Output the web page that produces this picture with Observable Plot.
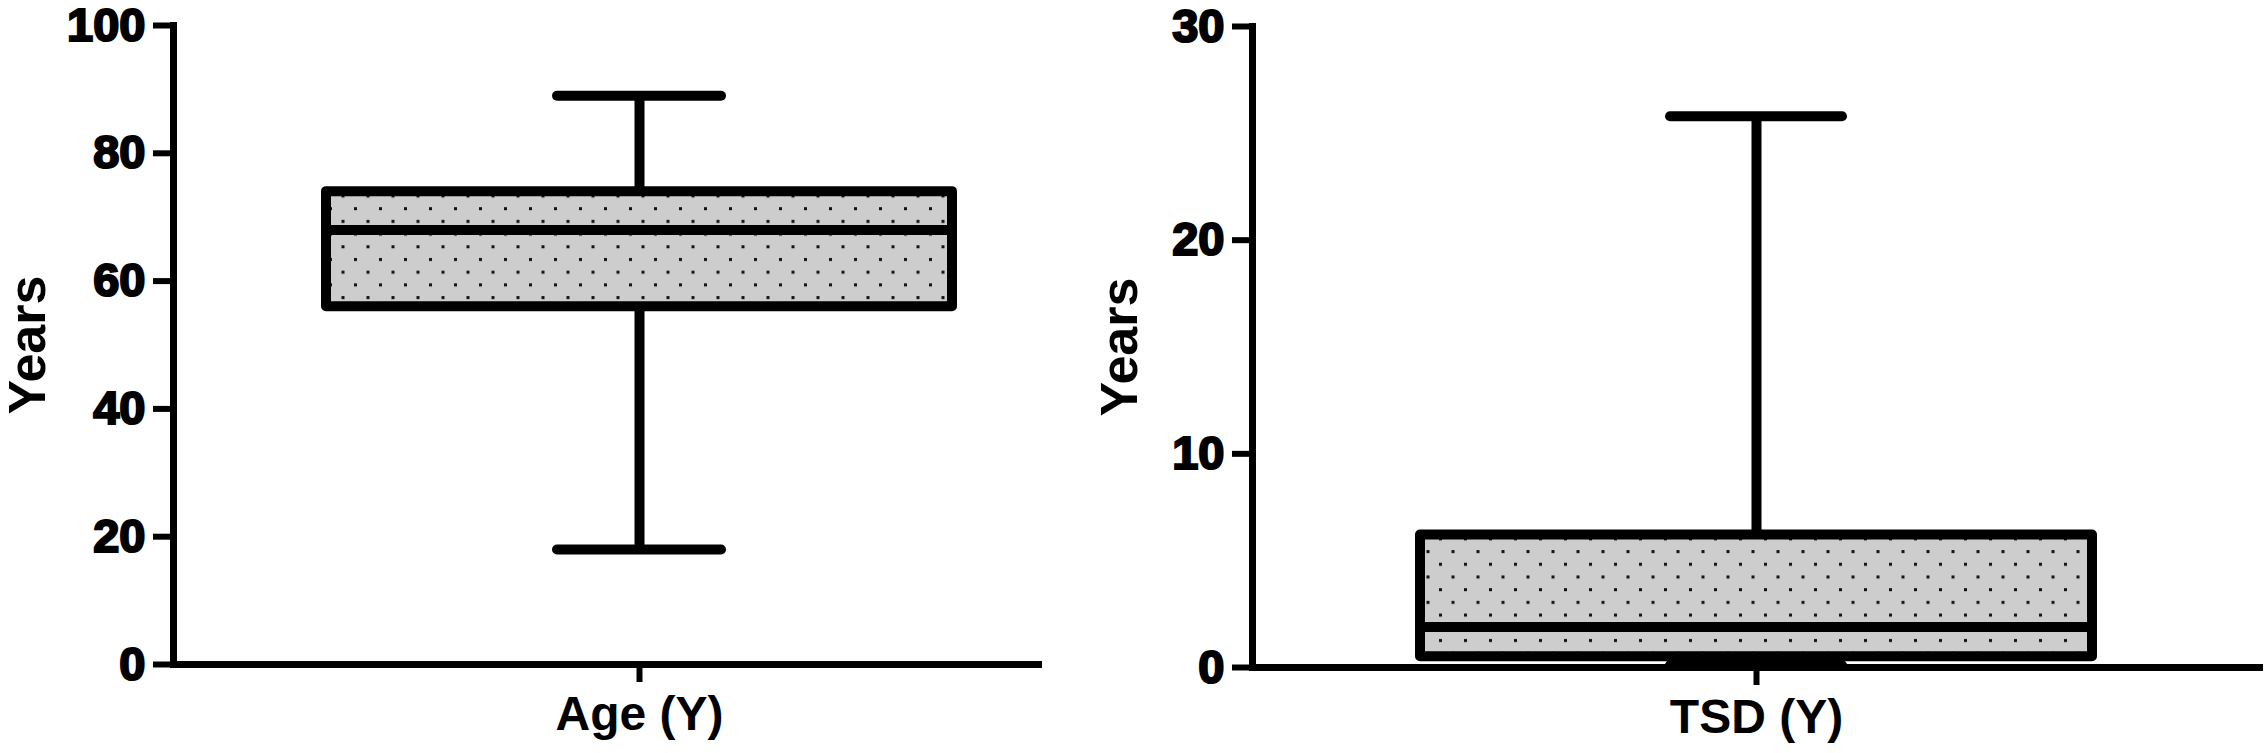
<!DOCTYPE html>
<html>
<head>
<meta charset="utf-8">
<script src="https://cdn.jsdelivr.net/npm/d3@7"></script>
<script src="https://cdn.jsdelivr.net/npm/@observablehq/plot@0.6"></script>
<style>
  html, body { margin: 0; padding: 0; background: #fff; }
  #wrap { display: flex; width: 2264px; height: 753px; }
  svg [aria-label="y-axis tick label"] text { stroke: #000; stroke-width: 2.2px; paint-order: stroke; }
</style>
</head>
<body>
<div id="wrap"></div>
<script>
// ---- data ----
const categories = ["Age (Y)", "TSD (Y)"];
const mins    = [18, 0.1];
const q1s     = [56, 0.5];
const medians = [68, 1.9];
const q3s     = [74, 6.2];
const maxs    = [89, 25.8];
const yDomains = [[0, 100], [0, 30]];
const yTickValues = [[0, 20, 40, 60, 80, 100], [0, 10, 20, 30]];
const yLabel = "Years";

const ns = "http://www.w3.org/2000/svg";

function addPattern(svg, id) {
  const defs = document.createElementNS(ns, "defs");
  defs.innerHTML = `<pattern id="${id}" patternUnits="userSpaceOnUse" width="25" height="25.4">
      <rect width="25" height="25.4" fill="#cdcdcd"></rect>
      <rect x="4" y="4" width="3" height="3" fill="#111"></rect>
      <rect x="16.5" y="16.7" width="3" height="3" fill="#111"></rect>
    </pattern>`;
  svg.insertBefore(defs, svg.firstChild);
}

function panel(i, cfg) {
  const data = [{cat: categories[i], min: mins[i], q1: q1s[i], median: medians[i], q3: q3s[i], max: maxs[i]}];
  const pid = "dots" + i;
  const svg = Plot.plot({
    width: cfg.width,
    height: 753,
    marginLeft: cfg.marginLeft,
    marginRight: cfg.marginRight,
    marginTop: cfg.marginTop,
    marginBottom: cfg.marginBottom,
    style: {fontFamily: "'Liberation Sans', Arial, sans-serif", background: "white", color: "black", overflow: "visible"},
    x: {domain: [categories[i]], range: cfg.xRange, padding: 0},
    y: {domain: yDomains[i]},
    marks: [
      Plot.frame({anchor: "left", strokeWidth: 7}),
      Plot.ruleY([0], {strokeWidth: 7}),
      Plot.axisY({ticks: yTickValues[i], tickSize: 20, tickPadding: 8, fontSize: 47, fontWeight: "bold", strokeWidth: 6, label: null}),
      Plot.axisX({tickSize: 18, tickPadding: 13, fontSize: 48, fontWeight: "bold", strokeWidth: 6, label: null}),
      Plot.ruleX(data, {x: "cat", y1: "q3", y2: "max", strokeWidth: 10}),
      Plot.ruleX(data, {x: "cat", y1: "min", y2: "q1", strokeWidth: 10}),
      Plot.barY(data, {x: "cat", y1: "q1", y2: "q3", inset: 0, fill: `url(#${pid})`, stroke: "black", strokeWidth: 10, strokeLinejoin: "round"}),
      Plot.tickY(data, {x: "cat", y: "median", strokeWidth: 10}),
      Plot.tickY(data, {x: "cat", y: "max", strokeWidth: 10, strokeLinecap: "round", insetLeft: cfg.capInset, insetRight: cfg.capInset}),
      Plot.tickY(data, {x: "cat", y: "min", strokeWidth: 10, strokeLinecap: "round", insetLeft: cfg.capInset, insetRight: cfg.capInset}),
      Plot.text([yLabel], {text: d => d, frameAnchor: "left", textAnchor: "middle", lineAnchor: "middle", dx: cfg.labelDx, rotate: -90, fontSize: 52, fontWeight: "bold"})
    ]
  });
  addPattern(svg, pid);
  return svg;
}

const wrap = document.getElementById("wrap");
wrap.appendChild(panel(0, {width: 1060, marginLeft: 173, marginRight: 18, marginTop: 25, marginBottom: 89, xRange: [326, 952], capInset: 231, labelDx: -145}));
wrap.appendChild(panel(1, {width: 1204, marginLeft: 192, marginRight: 1, marginTop: 26, marginBottom: 86, xRange: [360, 1032], capInset: 250, labelDx: -132}));
</script>
</body>
</html>
